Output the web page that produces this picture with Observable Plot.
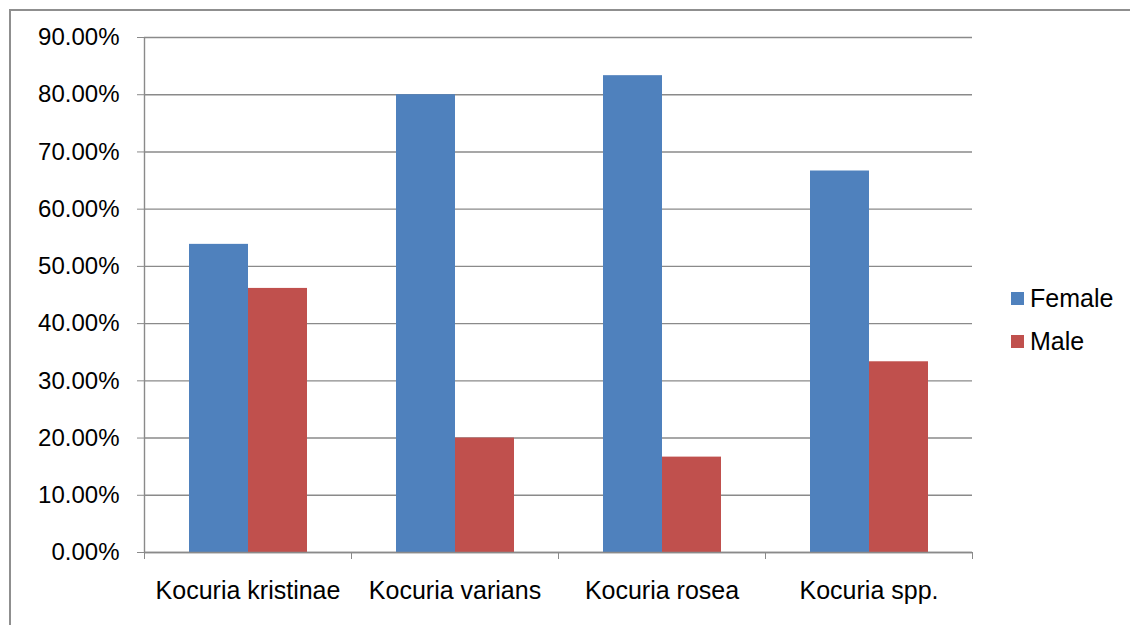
<!DOCTYPE html>
<html>
<head>
<meta charset="utf-8">
<script src="https://cdn.jsdelivr.net/npm/d3@7"></script>
<script src="https://cdn.jsdelivr.net/npm/@observablehq/plot@0.6"></script>
<style>
  html, body { margin: 0; padding: 0; background: #fff; overflow: hidden; }
  #wrap { position: relative; width: 1130px; height: 625px; overflow: hidden; font-family: "Liberation Sans", Arial, sans-serif; }
  #frame { position: absolute; left: 9px; top: 9px; width: 1300px; height: 800px; border-left: 2px solid #8f8f8f; border-top: 2px solid #8f8f8f; }
  .layer { position: absolute; left: 0; top: 0; }
  .layer text { fill: #000; }
  .layer g[aria-label^="fx-axis"] text { font-size: 25px; }
  .legend-item { position: absolute; left: 1011px; font-size: 25px; line-height: 24px; height: 24px; white-space: nowrap; }
  .legend-swatch { position: absolute; width: 13px; height: 13px; left: 0; top: 6px; }
  .legend-label { position: absolute; left: 19px; top: 0; color: #000; }
</style>
</head>
<body>
<div id="wrap"><div id="frame"></div></div>
<script>
const categories = ["Kocuria kristinae", "Kocuria varians", "Kocuria rosea", "Kocuria spp."];
const series = ["Female", "Male"];
const femaleValues = [0.5385, 0.80, 0.8333, 0.6667];
const maleValues = [0.4615, 0.20, 0.1667, 0.3333];
const yTicks = [0, 0.1, 0.2, 0.3, 0.4, 0.5, 0.6, 0.7, 0.8, 0.9];
const colors = ["#4F81BD", "#C0504D"];

const data = [];
categories.forEach((c, i) => {
  data.push({category: c, sex: "Female", value: femaleValues[i]});
  data.push({category: c, sex: "Male", value: maleValues[i]});
});

const W = 1130, H = 625;
const margins = {marginLeft: 144, marginRight: 158, marginTop: 37, marginBottom: 73};
const gray = "#8a8a8a";
const font = {fontFamily: '"Liberation Sans", Arial, sans-serif', fontSize: "24px", color: gray, background: "transparent", overflow: "visible"};

const main = Plot.plot({
  width: W, height: H, ...margins,
  style: font,
  fx: {domain: categories, padding: 0, axis: "bottom", tickSize: 0, tickPadding: 29, label: null},
  x: {domain: series, paddingInner: 0, paddingOuter: 0.754, axis: null},
  y: {domain: [0, 0.9], ticks: yTicks, tickFormat: d3.format(".2%"), tickSize: 7, tickPadding: 18, label: null},
  color: {domain: series, range: colors},
  marks: [
    Plot.ruleY(yTicks, {stroke: gray, strokeWidth: 1.4}),
    Plot.barY(data, {fx: "category", x: "sex", y: "value", fill: "sex"})
  ]
});
main.classList.add("layer");

const overlay = Plot.plot({
  width: W, height: H, ...margins,
  style: font,
  x: {domain: [0, categories.length], ticks: d3.range(categories.length + 1), tickFormat: () => "", tickSize: 7, label: null},
  y: {domain: [0, 0.9], axis: null},
  marks: [
    Plot.ruleX([0], {stroke: gray, strokeWidth: 1.4}),
    Plot.ruleY([0], {stroke: gray, strokeWidth: 1.4})
  ]
});
overlay.classList.add("layer");

const wrap = document.getElementById("wrap");
wrap.appendChild(main);
wrap.appendChild(overlay);

series.forEach((s, i) => {
  const item = document.createElement("div");
  item.className = "legend-item";
  item.style.top = (286 + i * 43) + "px";
  const sw = document.createElement("div");
  sw.className = "legend-swatch";
  sw.style.background = colors[i];
  const lb = document.createElement("div");
  lb.className = "legend-label";
  lb.textContent = s;
  item.appendChild(sw);
  item.appendChild(lb);
  wrap.appendChild(item);
});
</script>
</body>
</html>
